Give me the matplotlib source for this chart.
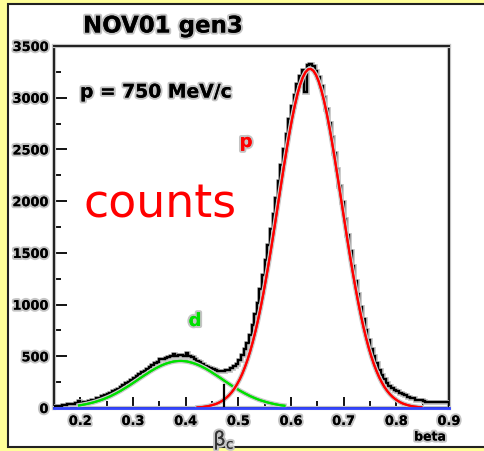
import numpy as np
import matplotlib
matplotlib.use('Agg')
import matplotlib.pyplot as plt
import matplotlib.patheffects as pe
from matplotlib.patches import Rectangle
from matplotlib.ticker import MultipleLocator


# measured beta histogram, 0.005 wide bins from 0.15 to 0.90
bin_lo = 0.15
bin_width = 0.005
counts = [
    20, 24, 22, 28, 30, 34, 36, 40, 44, 66,
    52, 58, 62, 68, 76, 82, 92, 100, 118, 124,
    136, 146, 160, 174, 188, 204, 220, 238, 256, 272,
    290, 306, 326, 344, 362, 380, 398, 414, 432, 448,
    470, 476, 486, 492, 498, 520, 506, 508, 510, 504,
    530, 498, 490, 476, 458, 440, 424, 408, 396, 384,
    374, 366, 360, 356, 360, 364, 372, 384, 404, 430,
    466, 510, 566, 630, 710, 800, 910, 1020, 1150, 1290,
    1430, 1580, 1730, 1880, 2030, 2190, 2350, 2500, 2650, 2790,
    2920, 3030, 3130, 3210, 3270, 3060, 3320, 3330, 3310, 3260,
    3200, 3110, 3010, 2890, 2760, 2620, 2470, 2310, 2150, 1990,
    1830, 1670, 1520, 1370, 1230, 1100, 975, 860, 755, 660,
    575, 500, 432, 372, 320, 278, 242, 214, 192, 176,
    160, 146, 135, 128, 110, 100, 92, 82, 76, 80,
    66, 62, 60, 58, 62, 56, 58, 54, 56, 60,
]

# deuteron fit (green), read at bin centres 0.1975 .. 0.5875
d_fit = [
    25, 29, 34, 39, 45, 51, 58, 66, 74, 83,
    93, 104, 115, 128, 141, 155, 169, 185, 200, 216,
    233, 250, 267, 285, 302, 319, 335, 352, 367, 382,
    395, 408, 419, 429, 437, 444, 450, 453, 455, 455,
    453, 450, 444, 437, 429, 419, 408, 395, 382, 367,
    352, 335, 319, 302, 285, 267, 250, 233, 216, 200,
    185, 169, 155, 141, 128, 115, 104, 93, 83, 74,
    66, 58, 51, 45, 39, 34, 29, 25, 22,
]
d_start = 0.1975

# proton fit (red), read at bin centres 0.4225 .. 0.8475
p_fit = [
    6, 8, 10, 14, 18, 24, 31, 39, 50, 64,
    80, 100, 124, 153, 188, 229, 276, 331, 395, 467,
    548, 640, 741, 853, 974, 1105, 1246, 1394, 1549, 1709,
    1874, 2040, 2204, 2366, 2522, 2670, 2807, 2930, 3038, 3128,
    3198, 3247, 3274, 3279, 3261, 3220, 3158, 3076, 2975, 2858,
    2726, 2582, 2429, 2269, 2105, 1940, 1775, 1612, 1455, 1304,
    1160, 1025, 900, 784, 679, 583, 498, 422, 356, 297,
    247, 203, 166, 135, 109, 88, 70, 55, 43, 34,
    26, 20, 15, 12, 9, 7,
]
p_start = 0.4225

beta_cut = 0.473
cut_height = 225

edges = bin_lo + bin_width * np.arange(len(counts) + 1)
d_x = d_start + bin_width * np.arange(len(d_fit))
p_x = p_start + bin_width * np.arange(len(p_fit))

halo = [pe.withStroke(linewidth=3.5, foreground='#c8c8c8'), pe.Normal()]
thalo = [pe.withStroke(linewidth=3, foreground='#c4c4c4'), pe.Normal()]

fig = plt.figure(figsize=(4.84, 4.52), dpi=100)
fig.patch.set_facecolor('#ffff99')
fig.add_artist(Rectangle((8 / 484, 1 - 448 / 452), 1.0, 443 / 452,
                         transform=fig.transFigure, facecolor='white',
                         edgecolor='#222222', lw=1.5, zorder=-10))

ax = fig.add_axes([54 / 484, 1 - 409 / 452, 395 / 484, 362 / 452])
ax.set_zorder(5)
ax.set_facecolor('none')

ax.stairs(counts, edges, color='black', lw=1.6, path_effects=halo, zorder=3)
ax.plot(d_x, d_fit, color='#00e000', lw=1.5, path_effects=halo, zorder=4)
ax.plot(p_x, p_fit, color='#ff0000', lw=1.5, path_effects=halo, zorder=4)
ax.plot([beta_cut, beta_cut], [0, cut_height], color='black', lw=1.6, zorder=4)
ax.axhline(0, color='#3344ff', lw=2, clip_on=False, zorder=5)

ax.set_xlim(0.15, 0.9)
ax.set_ylim(0, 3500)
ax.xaxis.set_major_locator(MultipleLocator(0.1))
ax.xaxis.set_minor_locator(MultipleLocator(0.05))
ax.yaxis.set_major_locator(MultipleLocator(500))
ax.yaxis.set_minor_locator(MultipleLocator(250))
ax.tick_params(axis='both', which='both', direction='in', top=False, right=False,
               color='black', width=1.3)
ax.tick_params(axis='x', which='major', length=8, pad=5)
ax.tick_params(axis='x', which='minor', length=5)
ax.tick_params(axis='y', which='major', length=9, pad=4)
ax.tick_params(axis='y', which='minor', length=5)
ax.set_xticks([0.2, 0.3, 0.4, 0.5, 0.6, 0.7, 0.8, 0.9])
ax.set_xticklabels(['0.2', '0.3', '0.4', '0.5', '0.6', '0.7', '0.8', '0.9'])
for lab in ax.get_xticklabels() + ax.get_yticklabels():
    lab.set_fontweight('bold')
    lab.set_fontsize(9.3)
    lab.set_path_effects(thalo)
for sp in ax.spines.values():
    sp.set_color('#222222')
    sp.set_linewidth(1.3)
    sp.set_path_effects(thalo)

fig.text(83 / 484, 1 - 27 / 452, 'NOV01 gen3', fontsize=16.5, fontweight='bold',
         va='center', ha='left', path_effects=thalo, zorder=10)
fig.text(80 / 484, 1 - 93 / 452, 'p = 750 MeV/c', fontsize=13.5, fontweight='bold',
         va='center', ha='left', path_effects=thalo, zorder=10)
fig.text(246 / 484, 1 - 143 / 452, 'p', fontsize=13, fontweight='bold', color='#ff0000',
         va='center', ha='center', path_effects=thalo, zorder=10)
fig.text(160 / 484, 1 - 205 / 452, 'counts', fontsize=33, color='#ff0000',
         va='center', ha='center', zorder=10)
fig.text(195 / 484, 1 - 322 / 452, 'd', fontsize=13, fontweight='bold', color='#00e000',
         va='center', ha='center', path_effects=thalo, zorder=10)
fig.text(224 / 484, 1 - 441 / 452, r'$\mathregular{\beta_c}$', fontsize=14, color='#333333',
         va='center', ha='center', path_effects=thalo, zorder=10)
fig.text(430 / 484, 1 - 438 / 452, 'beta', fontsize=9, fontweight='bold',
         va='center', ha='center', path_effects=thalo, zorder=10)

fig.savefig('out.png', dpi=100, facecolor=fig.get_facecolor())
